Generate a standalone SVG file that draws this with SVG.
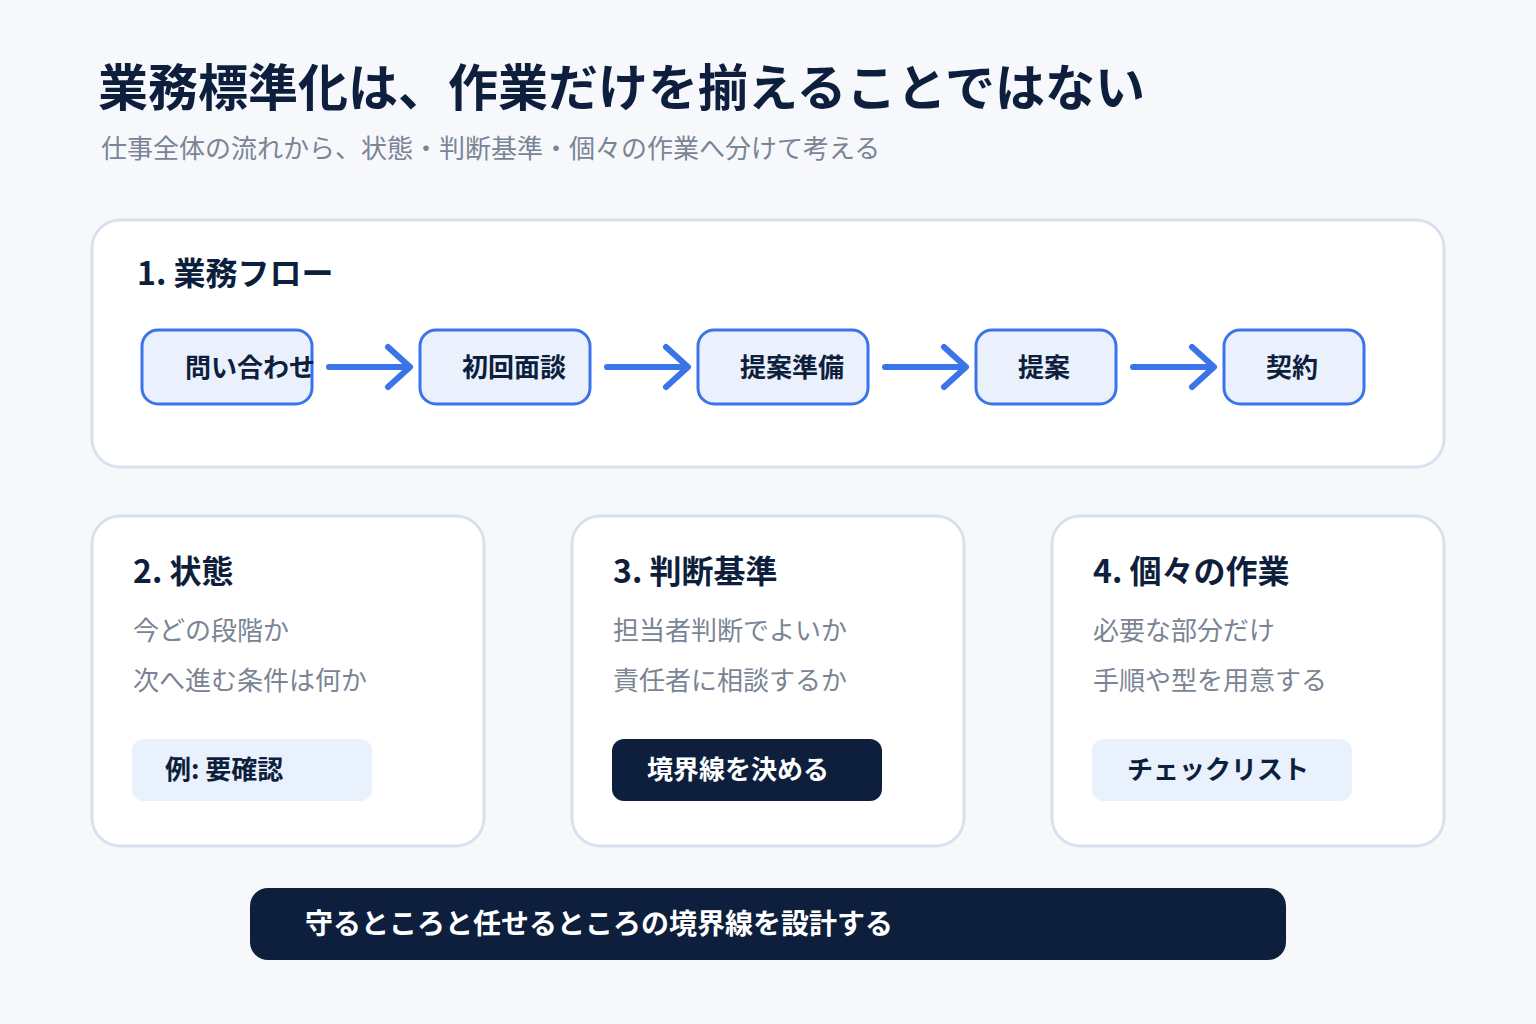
<svg xmlns="http://www.w3.org/2000/svg" width="1536" height="1024" viewBox="0 0 1536 1024">
<defs>
<style>
text{font-family:"Noto Sans CJK JP","Noto Sans",sans-serif}
.card{fill:#fff;stroke:#d9e1ee;stroke-width:3}
.h{font-size:32px;font-weight:700;fill:#0d1f3c}
.g{font-size:26px;fill:#7a8494}
.fb{fill:#eaf1fd;stroke:#3b74e8;stroke-width:3}
.ft{font-size:26px;font-weight:700;fill:#0d1f3c}
.ar{stroke:#3b74e8;stroke-width:6;fill:none;stroke-linecap:round;stroke-linejoin:round}
.tl{fill:#e9f1fd}
.td{fill:#0d1f3c}
.tt{font-size:26px;font-weight:700}
</style>
</defs>
<rect width="1536" height="1024" fill="#f6f8fc"/>
<text x="98" y="106" font-size="50" font-weight="700" fill="#0d1f3c">業務標準化は、作業だけを揃えることではない</text>
<text x="101" y="158" class="g">仕事全体の流れから、状態・判断基準・個々の作業へ分けて考える</text>
<g id="flow">
<rect class="card" x="92" y="220" width="1352" height="247" rx="28"/>
<text x="137" y="285" class="h">1. 業務フロー</text>
</g>
<g id="n1"><rect class="fb" x="142" y="330" width="170" height="74" rx="16"/><text x="185" y="377" class="ft">問い合わせ</text></g>
<g id="n2"><rect class="fb" x="420" y="330" width="170" height="74" rx="16"/><text x="462" y="377" class="ft">初回面談</text></g>
<g id="n3"><rect class="fb" x="698" y="330" width="170" height="74" rx="16"/><text x="740" y="377" class="ft">提案準備</text></g>
<g id="n4"><rect class="fb" x="976" y="330" width="140" height="74" rx="16"/><text x="1018" y="377" class="ft">提案</text></g>
<g id="n5"><rect class="fb" x="1224" y="330" width="140" height="74" rx="16"/><text x="1266" y="377" class="ft">契約</text></g>
<g id="connectors">
<path class="ar" d="M329 367H408M388 347L410 367L388 387"/>
<path class="ar" d="M607 367H686M666 347L688 367L666 387"/>
<path class="ar" d="M885 367H964M944 347L966 367L944 387"/>
<path class="ar" d="M1133 367H1212M1192 347L1214 367L1192 387"/>
</g>
<g id="c2">
<rect class="card" x="92" y="516" width="392" height="330" rx="28"/>
<text x="133" y="583" class="h">2. 状態</text>
<text x="133" y="640" class="g">今どの段階か</text>
<text x="133" y="690" class="g">次へ進む条件は何か</text>
<rect class="tl" x="132" y="739" width="240" height="62" rx="12"/>
<text x="165" y="779" class="tt" fill="#0d1f3c">例: 要確認</text>
</g>
<g id="c3">
<rect class="card" x="572" y="516" width="392" height="330" rx="28"/>
<text x="613" y="583" class="h">3. 判断基準</text>
<text x="613" y="640" class="g">担当者判断でよいか</text>
<text x="613" y="690" class="g">責任者に相談するか</text>
<rect class="td" x="612" y="739" width="270" height="62" rx="12"/>
<text x="647" y="779" class="tt" fill="#fff">境界線を決める</text>
</g>
<g id="c4">
<rect class="card" x="1052" y="516" width="392" height="330" rx="28"/>
<text x="1093" y="583" class="h">4. 個々の作業</text>
<text x="1093" y="640" class="g">必要な部分だけ</text>
<text x="1093" y="690" class="g">手順や型を用意する</text>
<rect class="tl" x="1092" y="739" width="260" height="62" rx="12"/>
<text x="1127" y="779" class="tt" fill="#0d1f3c">チェックリスト</text>
</g>
<g id="banner">
<rect class="td" x="250" y="888" width="1036" height="72" rx="18"/>
<text x="305" y="934" font-size="28" font-weight="700" fill="#fff">守るところと任せるところの境界線を設計する</text>
</g>
</svg>
